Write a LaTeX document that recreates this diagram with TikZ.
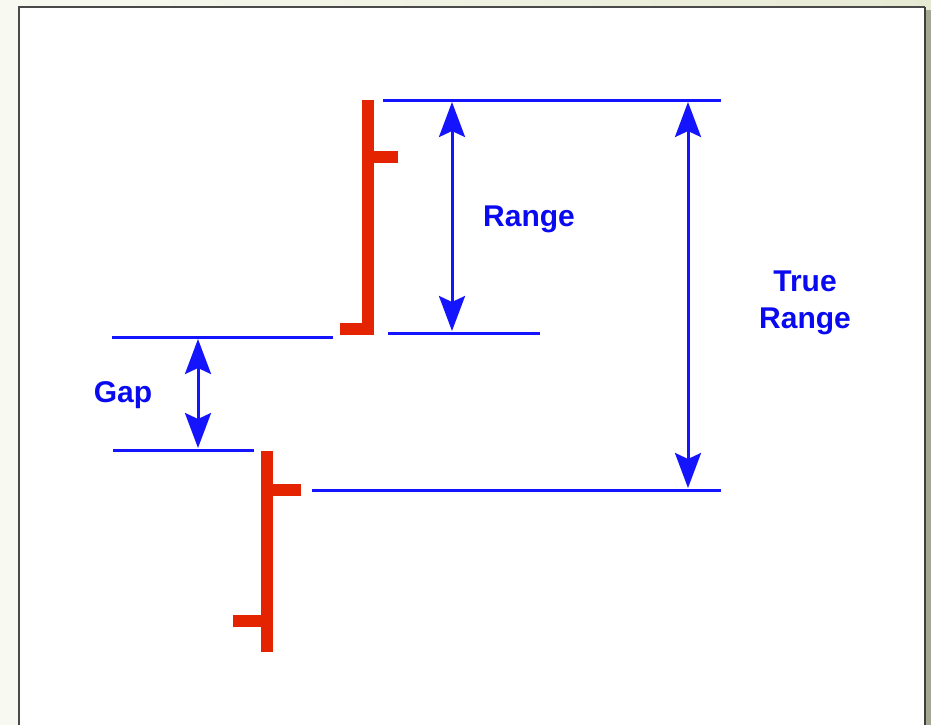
\documentclass[tikz,border=0pt]{standalone}
\usepackage{fontspec}
\setmainfont{Liberation Sans}
\usetikzlibrary{arrows.meta}
\definecolor{barred}{HTML}{E42300}
\definecolor{lineblue}{HTML}{1414FF}
\definecolor{textblue}{HTML}{0A0AF0}
\definecolor{bgleft}{HTML}{F8F9F1}
\definecolor{bgright}{HTML}{E7EAD3}
\definecolor{shadowgr}{HTML}{A2A891}
\definecolor{frameg}{HTML}{4A4A4A}
\begin{document}
\begin{tikzpicture}[x=1pt,y=-1pt,
  bar/.style={draw=barred,line width=12pt},
  level/.style={draw=lineblue,line width=3pt},
  span/.style={draw=lineblue,line width=3pt,
    {Stealth[length=35pt,width=26pt,inset=6pt]}-{Stealth[length=35pt,width=26pt,inset=6pt]}},
  lbl/.style={text=textblue,font=\fontsize{30}{37}\selectfont\bfseries,align=center,inner sep=0pt}]
\useasboundingbox (0,0) rectangle (931,725);
\clip (0,0) rectangle (931,725);
% background and panel
\shade[left color=bgleft,right color=bgright] (0,0) rectangle (931,725);
\fill[shadowgr] (925,10) rectangle (931,725);
\fill[white] (19,7) rectangle (925,730);
\draw[frameg,line width=1.8pt] (19,730) -- (19,7) -- (925,7);
\draw[frameg!85!black,line width=2.5pt] (925,7) -- (925,730);

% coordinates
\coordinate (ubTop) at (368,100);
\coordinate (ubBot) at (368,335);
\coordinate (ubClose) at (368,157);
\coordinate (ubCloseEnd) at (398,157);
\coordinate (ubOpen) at (368,329);
\coordinate (ubOpenEnd) at (340,329);
\coordinate (lbTop) at (267,451);
\coordinate (lbBot) at (267,652);
\coordinate (lbClose) at (267,490);
\coordinate (lbCloseEnd) at (301,490);
\coordinate (lbOpen) at (267,621);
\coordinate (lbOpenEnd) at (233,621);

\coordinate (hiA) at (383,100);   \coordinate (hiB) at (721,100);
\coordinate (loA) at (388,333);   \coordinate (loB) at (540,333);
\coordinate (gtA) at (112,337);   \coordinate (gtB) at (333,337);
\coordinate (gbA) at (113,450);   \coordinate (gbB) at (254,450);
\coordinate (pcA) at (312,490);   \coordinate (pcB) at (721,490);

\coordinate (rT) at (452,102);  \coordinate (rB) at (452,331);
\coordinate (tT) at (688,102);  \coordinate (tB) at (688,488);
\coordinate (gT) at (198,339);  \coordinate (gB) at (198,448);

% bars
\draw[bar] (ubTop) -- (ubBot);
\draw[bar] (ubClose) -- (ubCloseEnd);
\draw[bar] (ubOpen) -- (ubOpenEnd);
\draw[bar] (lbTop) -- (lbBot);
\draw[bar] (lbClose) -- (lbCloseEnd);
\draw[bar] (lbOpen) -- (lbOpenEnd);

% levels
\draw[level] (hiA) -- (hiB);
\draw[level] (loA) -- (loB);
\draw[level] (gtA) -- (gtB);
\draw[level] (gbA) -- (gbB);
\draw[level] (pcA) -- (pcB);

% spans
\draw[span] (rT) -- (rB);
\draw[span] (tT) -- (tB);
\draw[span] (gT) -- (gB);

% labels
\node[lbl,anchor=base] (rangeLbl) at (529,226) {Range};
\node[lbl] (trueLbl) at (805,303) {True\\Range};
\node[lbl,anchor=base] (gapLbl) at (123,402) {Gap};
\end{tikzpicture}
\end{document}
